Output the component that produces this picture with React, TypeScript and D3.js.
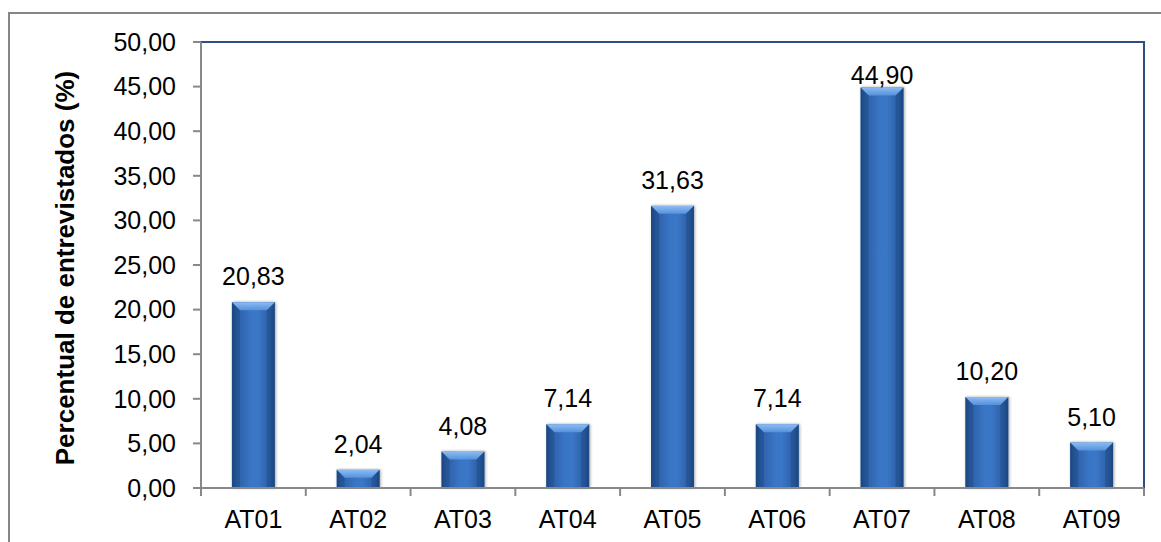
import React from "react";
import * as d3 from "d3";

const categories = ["AT01", "AT02", "AT03", "AT04", "AT05", "AT06", "AT07", "AT08", "AT09"];
const values = [20.83, 2.04, 4.08, 7.14, 31.63, 7.14, 44.9, 10.2, 5.1];
const yTicks = [0, 5, 10, 15, 20, 25, 30, 35, 40, 45, 50];
const yTitle = "Percentual de entrevistados (%)";

const W = 1161;
const H = 542;
const M = { left: 201, right: 1144, top: 42, bottom: 488 };
const FONT = "'Liberation Sans', Arial, sans-serif";
const FS = 25;

const fmt = (v: number) => v.toFixed(2).replace(".", ",");

export default function App() {
  const x = d3.scaleBand<string>().domain(categories).range([M.left, M.right]).paddingInner(0.59).paddingOuter(0.295);
  const xb = d3.scaleBand<string>().domain(categories).range([M.left, M.right]);
  const y = d3.scaleLinear().domain([0, 50]).range([M.bottom, M.top]);
  const bw = x.bandwidth();
  const bev = 8;

  return (
    <svg width={W} height={H} style={{ position: "absolute", left: 0, top: 0, fontFamily: FONT }}>
      <defs>
        <linearGradient id="barG" x1="0" x2="1" y1="0" y2="0">
          <stop offset="0" stopColor="#1d4a86" />
          <stop offset="0.12" stopColor="#2c5fa6" />
          <stop offset="0.45" stopColor="#3a76c6" />
          <stop offset="0.6" stopColor="#3b77c7" />
          <stop offset="0.88" stopColor="#2c5fa6" />
          <stop offset="1" stopColor="#1d4a86" />
        </linearGradient>
        <linearGradient id="topG" x1="0" x2="0" y1="0" y2="1">
          <stop offset="0" stopColor="#8cbcf2" />
          <stop offset="1" stopColor="#5591dc" />
        </linearGradient>
        <filter id="sh" x="-20%" y="-5%" width="140%" height="110%">
          <feGaussianBlur in="SourceAlpha" stdDeviation="1.5" />
          <feOffset dx="1" dy="0" result="b" />
          <feComponentTransfer><feFuncA type="linear" slope="0.35" /></feComponentTransfer>
          <feMerge><feMergeNode /><feMergeNode in="SourceGraphic" /></feMerge>
        </filter>
      </defs>
      <rect x={0} y={0} width={W} height={H} fill="#fff" />
      <rect x={9} y={13} width={1160} height={540} fill="#fff" stroke="#868686" strokeWidth={2} />

      {/* plot area border (top/right blue) */}
      <line x1={M.left} x2={M.right} y1={M.top} y2={M.top} stroke="#2b4f82" strokeWidth={2} />
      <line x1={M.right} x2={M.right} y1={M.top - 1} y2={M.bottom} stroke="#2b4f82" strokeWidth={2} />

      {/* bars */}
      {categories.map((c, i) => {
        const x0 = x(c)!;
        const yt = y(values[i]);
        const h = M.bottom - yt;
        const b = Math.min(bev, h / 2);
        return (
          <g key={c} filter="url(#sh)">
            <rect x={x0} y={yt} width={bw} height={h} fill="url(#barG)" />
            <path d={`M${x0},${yt}L${x0 + bw},${yt}L${x0 + bw - b},${yt + b}L${x0 + b},${yt + b}Z`} fill="url(#topG)" />
            <path d={`M${x0},${yt}L${x0 + b},${yt + b}L${x0 + b},${M.bottom}L${x0},${M.bottom}Z`} fill="#1b4279" opacity={0.35} />
            <path d={`M${x0 + bw},${yt}L${x0 + bw - b},${yt + b}L${x0 + bw - b},${M.bottom}L${x0 + bw},${M.bottom}Z`} fill="#1b4279" opacity={0.35} />
          </g>
        );
      })}

      {/* axes */}
      <line x1={M.left} x2={M.left} y1={M.top} y2={M.bottom} stroke="#888" strokeWidth={2} />
      <line x1={M.left - 8} x2={M.right} y1={M.bottom} y2={M.bottom} stroke="#888" strokeWidth={2} />
      {yTicks.map((t) => (
        <g key={t}>
          <line x1={M.left - 8} x2={M.left} y1={y(t)} y2={y(t)} stroke="#888" strokeWidth={2} />
          <text x={176} y={y(t)} dy="0.35em" textAnchor="end" fontSize={FS} fill="#000">{fmt(t)}</text>
        </g>
      ))}
      {categories.map((c) => (
        <line key={c} x1={xb(c)!} x2={xb(c)!} y1={M.bottom} y2={M.bottom + 8} stroke="#888" strokeWidth={2} />
      ))}
      <line x1={M.right} x2={M.right} y1={M.bottom} y2={M.bottom + 8} stroke="#888" strokeWidth={2} />
      {categories.map((c) => (
        <text key={c} x={xb(c)! + xb.bandwidth() / 2} y={528} textAnchor="middle" fontSize={FS} fill="#000">{c}</text>
      ))}

      {/* value labels */}
      {categories.map((c, i) => {
        const yt = y(values[i]);
        const ly = Math.max(yt - 17, M.top + 42);
        return (
          <text key={c} x={x(c)! + bw / 2} y={ly} textAnchor="middle" fontSize={FS} fill="#000">{fmt(values[i])}</text>
        );
      })}

      <text transform={`translate(74,268) rotate(-90)`} textAnchor="middle" fontSize={26} fontWeight="bold" fill="#000">{yTitle}</text>
    </svg>
  );
}
